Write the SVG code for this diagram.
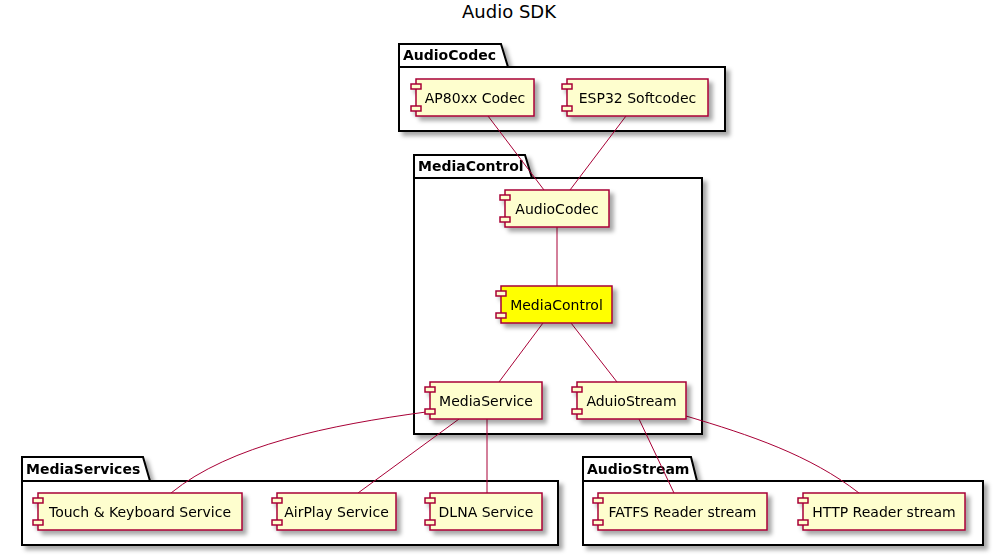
<svg xmlns="http://www.w3.org/2000/svg" width="1003" height="556" viewBox="0 0 1003 556">
<style>
text{font-family:"DejaVu Sans","Liberation Sans",sans-serif;fill:#000}
.title{font-size:18px;text-anchor:middle}
.pkg path{fill:#fff;stroke:#000;stroke-width:2}
.pkg text{font-size:14px;font-weight:bold}
.comp rect{fill:#FEFECE;stroke:#A80036;stroke-width:1.5}
.comp text{font-size:14px;text-anchor:middle}
.comp.hl rect.main{fill:#FFFF00}
.edges path{fill:none;stroke:#A80036;stroke-width:1}
</style>
<defs>
<filter id="sh" x="-10%" y="-10%" width="130%" height="140%">
<feDropShadow dx="4" dy="4" stdDeviation="2" flood-color="#000" flood-opacity="0.35"/>
</filter>
</defs>
<rect width="1003" height="556" fill="#fff"/>
<text class="title" x="509" y="18">Audio SDK</text>

<g id="pkg-audiocodec" class="pkg" filter="url(#sh)">
<path d="M399,44 L501,44 L508,67 L725,67 L725,131 L399,131 Z"/>
<path d="M399,67 L508,67"/>
<text x="403" y="60">AudioCodec</text>
</g>
<g id="pkg-mediacontrol" class="pkg" filter="url(#sh)">
<path d="M414,155 L525,155 L532,178 L702,178 L702,434 L414,434 Z"/>
<path d="M414,178 L532,178"/>
<text x="418" y="171">MediaControl</text>
</g>
<g id="pkg-mediaservices" class="pkg" filter="url(#sh)">
<path d="M22,457 L143,457 L150,481 L558,481 L558,545 L22,545 Z"/>
<path d="M22,481 L150,481"/>
<text x="26" y="474">MediaServices</text>
</g>
<g id="pkg-audiostream" class="pkg" filter="url(#sh)">
<path d="M583,457 L691,457 L697,481 L983,481 L983,545 L583,545 Z"/>
<path d="M583,481 L697,481"/>
<text x="587" y="474">AudioStream</text>
</g>

<g id="connectors" class="edges">
<path d="M488,116 L544,190"/>
<path d="M626,116 L570,190"/>
<path d="M557,227 L557,286"/>
<path d="M543,323 L499,382"/>
<path d="M571,323 L617,382"/>
<path d="M426,412 C330,425 230,445 171,493"/>
<path d="M459,419 L358,493"/>
<path d="M487,419 L487,493"/>
<path d="M639,419 L674,493"/>
<path d="M686,416 C750,435 810,455 859,493"/>
</g>

<g id="ap80xx" class="comp" filter="url(#sh)">
<rect class="main" x="416" y="79" width="118" height="37"/>
<rect x="411" y="84" width="10" height="5"/><rect x="411" y="106" width="10" height="5"/>
<text x="475" y="102.5">AP80xx Codec</text>
</g>
<g id="esp32" class="comp" filter="url(#sh)">
<rect class="main" x="567" y="79" width="141" height="37"/>
<rect x="562" y="84" width="10" height="5"/><rect x="562" y="106" width="10" height="5"/>
<text x="637.5" y="102.5">ESP32 Softcodec</text>
</g>
<g id="audiocodec" class="comp" filter="url(#sh)">
<rect class="main" x="505" y="190" width="104" height="37"/>
<rect x="500" y="195" width="10" height="5"/><rect x="500" y="217" width="10" height="5"/>
<text x="557" y="213.5">AudioCodec</text>
</g>
<g id="mediacontrol" class="comp hl" filter="url(#sh)">
<rect class="main" x="501" y="286" width="111" height="37"/>
<rect x="496" y="291" width="10" height="5"/><rect x="496" y="313" width="10" height="5"/>
<text x="556.5" y="309.5">MediaControl</text>
</g>
<g id="mediaservice" class="comp" filter="url(#sh)">
<rect class="main" x="430" y="382" width="112" height="37"/>
<rect x="425" y="387" width="10" height="5"/><rect x="425" y="409" width="10" height="5"/>
<text x="486" y="405.5">MediaService</text>
</g>
<g id="aduiostream" class="comp" filter="url(#sh)">
<rect class="main" x="577" y="382" width="109" height="37"/>
<rect x="572" y="387" width="10" height="5"/><rect x="572" y="409" width="10" height="5"/>
<text x="631.5" y="405.5">AduioStream</text>
</g>
<g id="touch" class="comp" filter="url(#sh)">
<rect class="main" x="38" y="493" width="204" height="37"/>
<rect x="33" y="498" width="10" height="5"/><rect x="33" y="520" width="10" height="5"/>
<text x="140" y="516.5">Touch &amp; Keyboard Service</text>
</g>
<g id="airplay" class="comp" filter="url(#sh)">
<rect class="main" x="277" y="493" width="119" height="37"/>
<rect x="272" y="498" width="10" height="5"/><rect x="272" y="520" width="10" height="5"/>
<text x="336.5" y="516.5">AirPlay Service</text>
</g>
<g id="dlna" class="comp" filter="url(#sh)">
<rect class="main" x="430" y="493" width="112" height="37"/>
<rect x="425" y="498" width="10" height="5"/><rect x="425" y="520" width="10" height="5"/>
<text x="486" y="516.5">DLNA Service</text>
</g>
<g id="fatfs" class="comp" filter="url(#sh)">
<rect class="main" x="598" y="493" width="169" height="37"/>
<rect x="593" y="498" width="10" height="5"/><rect x="593" y="520" width="10" height="5"/>
<text x="682.5" y="516.5">FATFS Reader stream</text>
</g>
<g id="http" class="comp" filter="url(#sh)">
<rect class="main" x="803" y="493" width="162" height="37"/>
<rect x="798" y="498" width="10" height="5"/><rect x="798" y="520" width="10" height="5"/>
<text x="884" y="516.5">HTTP Reader stream</text>
</g>
</svg>
